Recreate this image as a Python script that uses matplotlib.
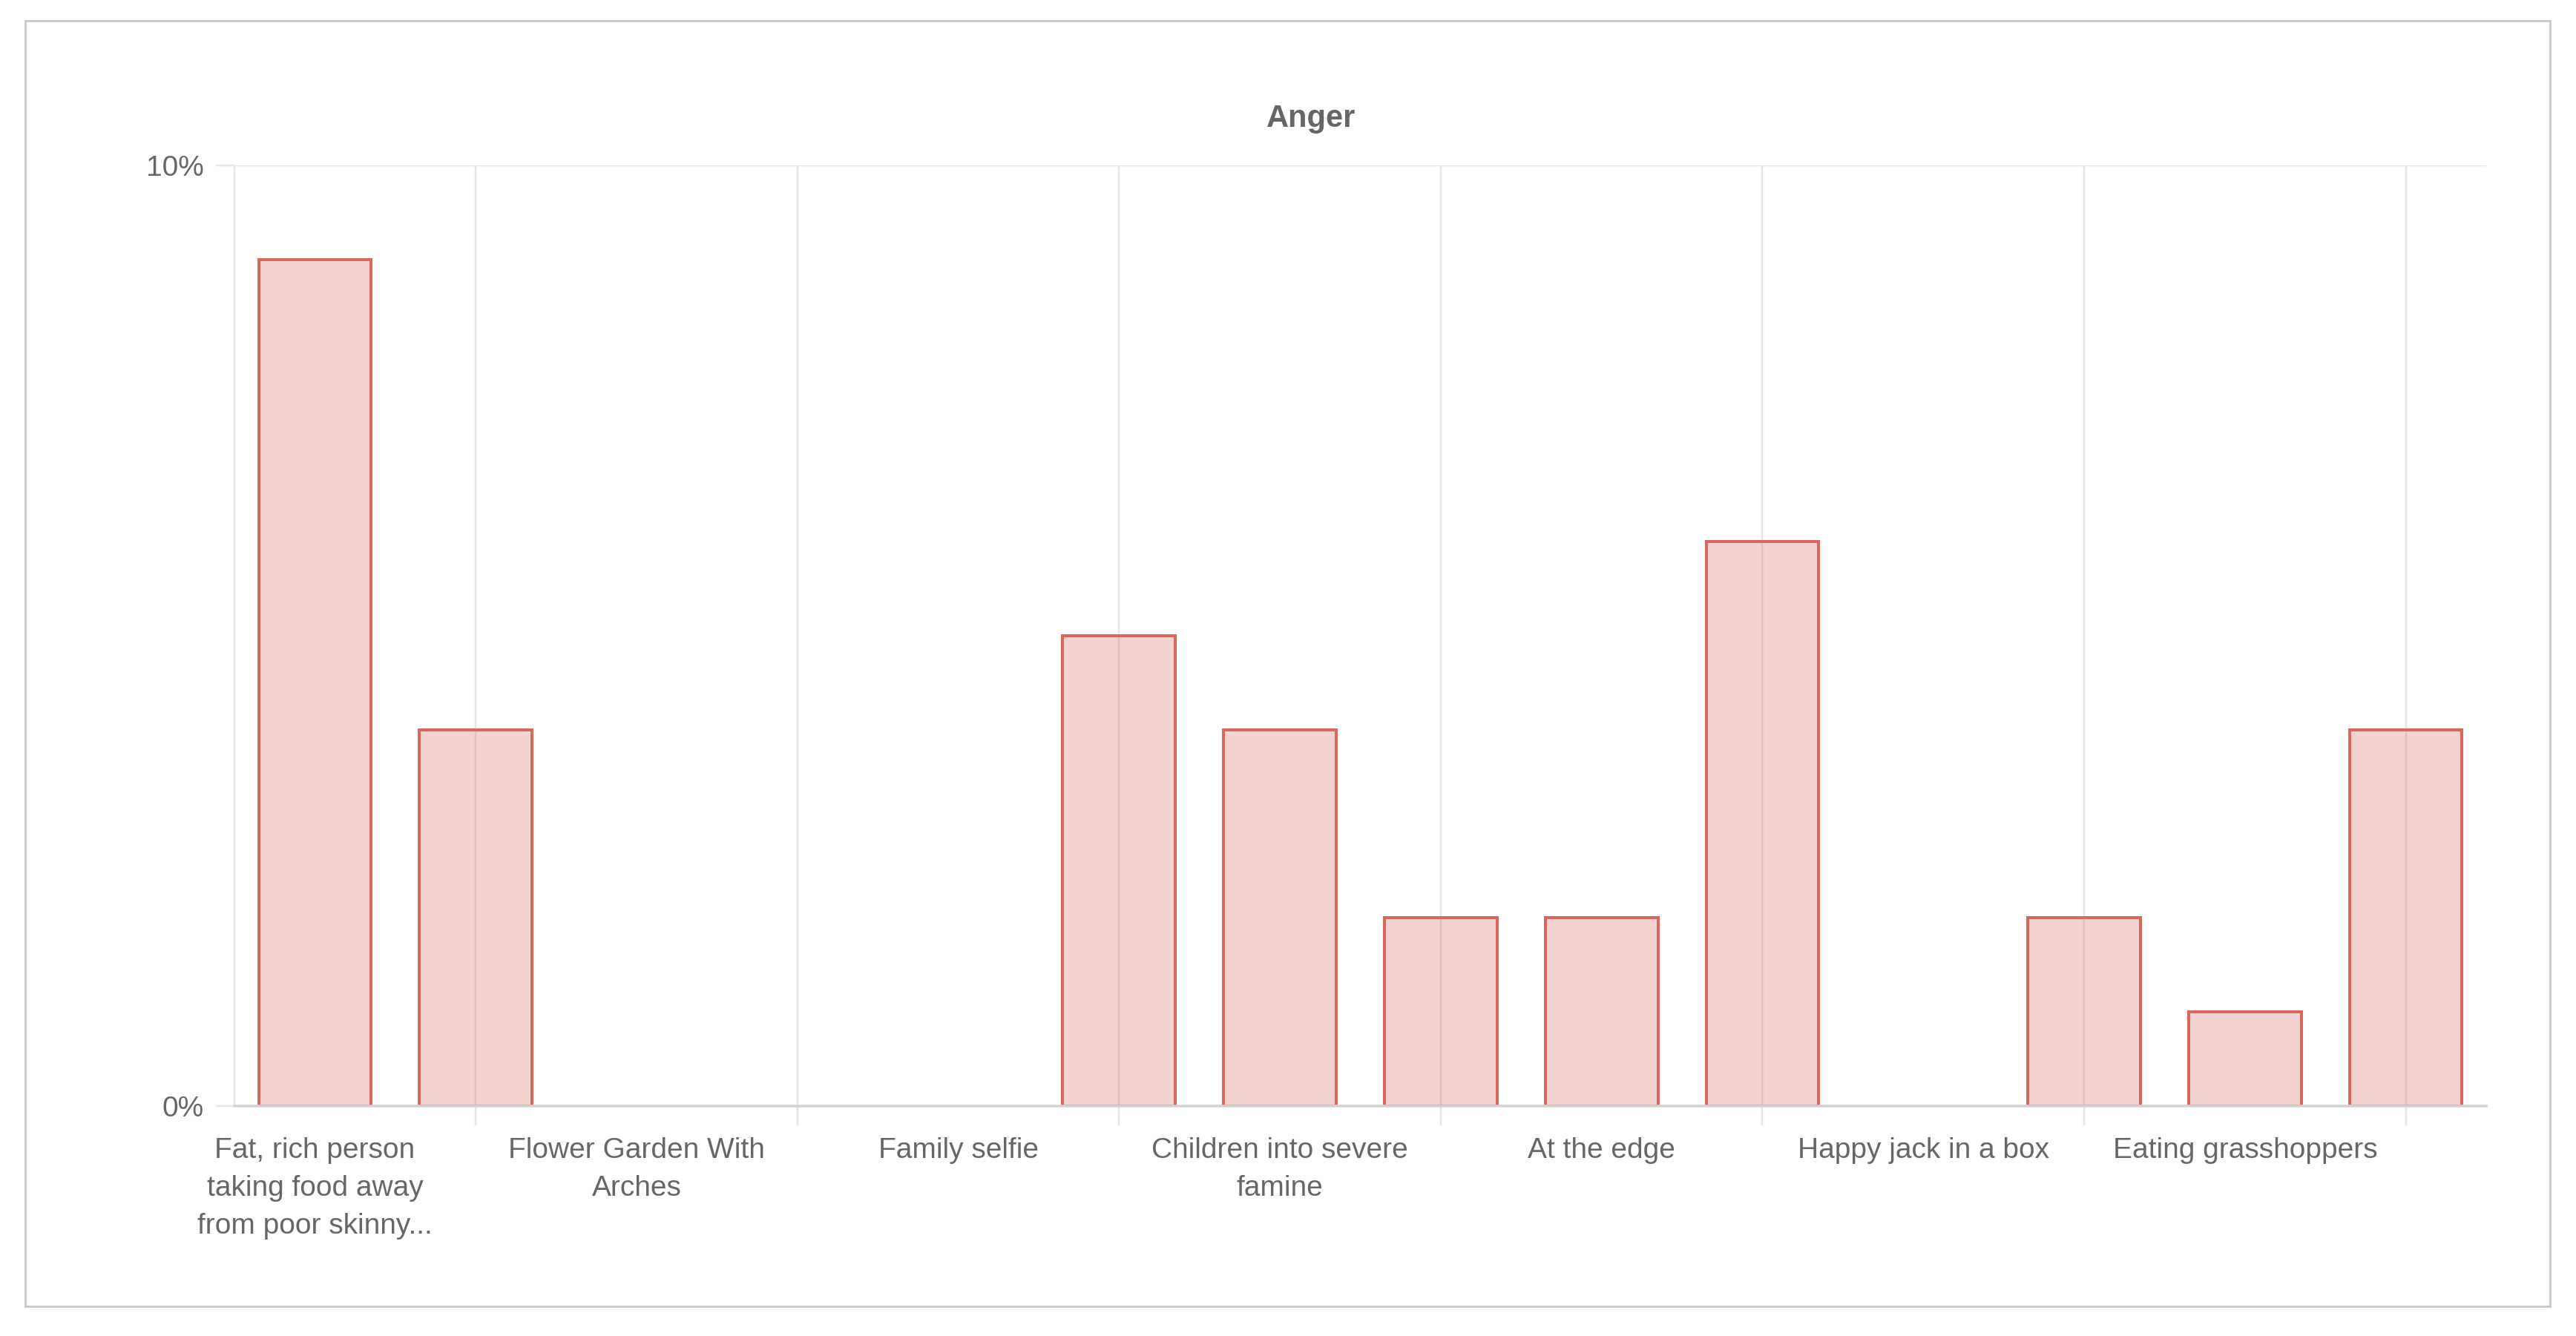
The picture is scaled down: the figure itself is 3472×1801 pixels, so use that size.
#!/usr/bin/env python3
"""Anger bar chart (percentage of responses per image)."""

import numpy as np
import matplotlib
matplotlib.use("Agg")
import matplotlib.pyplot as plt
from matplotlib.patches import Rectangle

# Category labels (only every other one is shown on the axis, as in the source)
labels = [
    "Fat, rich person\ntaking food away\nfrom poor skinny...", "",
    "Flower Garden With\nArches", "",
    "Family selfie", "",
    "Children into severe\nfamine", "",
    "At the edge", "",
    "Happy jack in a box", "",
    "Eating grasshoppers", "",
]
values = [9, 4, 0, 0, 0, 5, 4, 2, 2, 6, 0, 2, 1, 4]
y_ticks = [0, 10]
y_tick_labels = ["0%", "10%"]
title = "Anger"

W, H, DPI = 3472, 1801, 100
PX = 72 / DPI  # points per pixel

plt.rcParams['font.family'] = ['Liberation Sans', 'DejaVu Sans']

fig = plt.figure(figsize=(W / DPI, H / DPI), dpi=DPI)

# outer panel border
fig.add_artist(Rectangle((34 / W, 1 - 1761 / H), (3437 - 34) / W, (1761 - 28) / H,
                         transform=fig.transFigure, fill=False,
                         edgecolor='#cccccc', linewidth=3 * PX))

left, right, top, bottom = 316, 3351, 223, 1491
ax = fig.add_axes([left / W, 1 - bottom / H, (right - left) / W, (bottom - top) / H])

grid_col = '#e6e6e6'
text_col = '#666666'

x = np.arange(len(values))
# no outline for empty bars (Chart.js draws nothing there)
edge_widths = [4 * PX if v > 0 else 0 for v in values]
ax.bar(x, values, width=0.70, color=(211 / 255, 83 / 255, 75 / 255, 0.25),
       edgecolor='#d9675b', linewidth=edge_widths, zorder=2)

ax.set_xlim(-0.5, len(values) - 0.5)
ax.set_ylim(0, 10)

# labelled ticks on even categories
ax.set_xticks(x[::2])
ax.set_xticklabels(labels[::2], fontsize=28, color=text_col, linespacing=1.55)
ax.tick_params(axis='x', which='major', length=0, pad=30)

# grid lines on odd categories, with small outward ticks
ax.set_xticks(x[1::2], minor=True)
ax.tick_params(axis='x', which='minor', length=26 * PX, width=2.5 * PX,
               color=grid_col, direction='out')
ax.grid(True, axis='x', which='minor', color=grid_col, linewidth=2.5 * PX)

ax.set_yticks(y_ticks)
ax.set_yticklabels(y_tick_labels, fontsize=28, color=text_col)
ax.tick_params(axis='y', length=25 * PX, width=2.5 * PX, color=grid_col, pad=12)
ax.grid(True, axis='y', color=grid_col, linewidth=2.5 * PX)
ax.set_axisbelow(True)

for side in ['top', 'right']:
    ax.spines[side].set_visible(False)
ax.spines['left'].set_color(grid_col)
ax.spines['left'].set_linewidth(2.5 * PX)
ax.spines['bottom'].set_color('#d2d2d2')
ax.spines['bottom'].set_linewidth(3.5 * PX)
ax.spines['bottom'].set_zorder(3)

fig.text(1767 / W, 1 - 160 / H, title, ha='center', va='center',
         fontsize=30, fontweight='bold', color='#666666')

fig.savefig('out.png', dpi=DPI, facecolor='white')
plt.close(fig)
